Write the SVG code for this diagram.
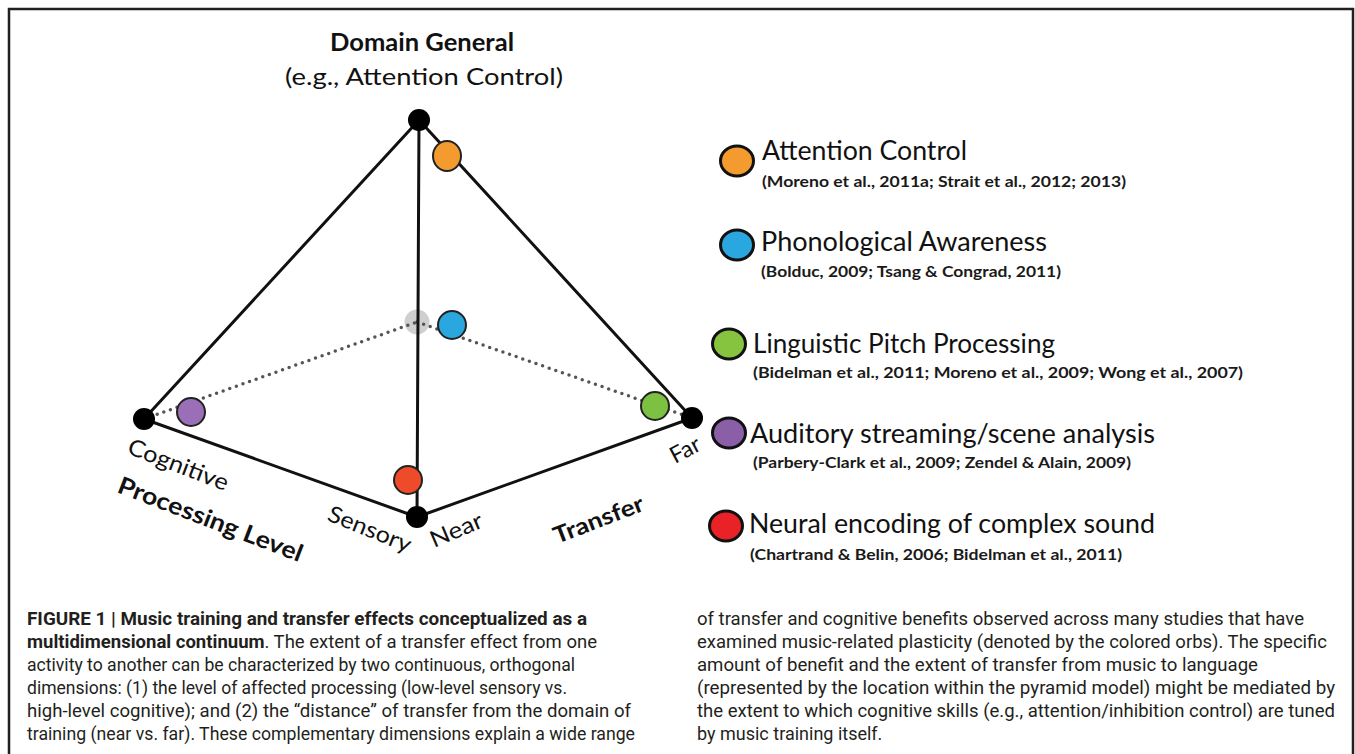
<svg xmlns="http://www.w3.org/2000/svg" width="1355" height="754" viewBox="0 0 1355 754">
<style>
.edge{stroke:#111;stroke-width:3;fill:none;stroke-linecap:round}
.dotted{stroke:#555;stroke-width:3.5;stroke-dasharray:0 7;stroke-linecap:round;fill:none}
.vtx{fill:#000}
.orb{stroke:#222;stroke-width:2}
.lorb{stroke:#111;stroke-width:3}
.lab{font-family:Lato,"Open Sans","Liberation Sans",sans-serif;fill:#111}
.b{font-weight:bold}
.ltitle{font-family:Lato,"Open Sans","Liberation Sans",sans-serif;font-size:26px;fill:#111}
.lcite{font-family:Lato,"Open Sans","Liberation Sans",sans-serif;font-size:15px;font-weight:bold;fill:#1a1a1a}
.cap{font-family:Roboto,"Liberation Sans",sans-serif;font-size:18px;fill:#231f20}
</style>
<rect width="1355" height="754" fill="#fff"/>
<path d="M9,754 V9 H1353 V754" fill="none" stroke="#231f20" stroke-width="2.5"/>

<g id="title">
<text class="lab b" x="422" y="51" font-size="25" text-anchor="middle" textLength="184" lengthAdjust="spacingAndGlyphs">Domain General</text>
<text class="lab" x="424" y="85" font-size="24" text-anchor="middle" textLength="278" lengthAdjust="spacingAndGlyphs">(e.g., Attention Control)</text>
</g>

<g id="hidden-vertex">
<circle cx="417" cy="322" r="12.5" fill="#cfcfcf"/>
</g>

<g id="connectors">
<line class="dotted" x1="144" y1="419" x2="417" y2="322"/>
<line class="dotted" x1="417" y1="322" x2="692" y2="418"/>
<line class="edge" x1="419" y1="120" x2="144" y2="419"/>
<line class="edge" x1="419" y1="120" x2="417" y2="517"/>
<line class="edge" x1="419" y1="120" x2="692" y2="418"/>
<line class="edge" x1="144" y1="419" x2="417" y2="517"/>
<line class="edge" x1="417" y1="517" x2="692" y2="418"/>
</g>

<g id="apex"><circle class="vtx" cx="419" cy="120" r="11"/></g>
<g id="cognitive"><circle class="vtx" cx="144" cy="419" r="11"/>
<text class="lab" transform="translate(126,453) rotate(21)" font-size="23" textLength="106" lengthAdjust="spacingAndGlyphs">Cognitive</text></g>
<g id="near"><circle class="vtx" cx="417" cy="517" r="11"/>
<text class="lab" transform="translate(326,520) rotate(22)" font-size="23" textLength="88" lengthAdjust="spacingAndGlyphs">Sensory</text>
<text class="lab" transform="translate(434,548) rotate(-23)" font-size="23" textLength="55" lengthAdjust="spacingAndGlyphs">Near</text></g>
<g id="far"><circle class="vtx" cx="692" cy="418" r="11"/>
<text class="lab" transform="translate(675,464) rotate(-28)" font-size="23">Far</text></g>
<g id="axis-processing"><text class="lab b" transform="translate(116,492) rotate(21)" font-size="24" textLength="196" lengthAdjust="spacingAndGlyphs">Processing Level</text></g>
<g id="axis-transfer"><text class="lab b" transform="translate(557,544) rotate(-21)" font-size="23" textLength="95" lengthAdjust="spacingAndGlyphs">Transfer</text></g>

<g id="orb-attention"><ellipse class="orb" cx="447" cy="156" rx="14" ry="15" fill="#F39B2E"/></g>
<g id="orb-phonological"><circle class="orb" cx="452" cy="325" r="14" fill="#2AA7DF"/></g>
<g id="orb-pitch"><circle class="orb" cx="655" cy="406" r="14" fill="#7CC142"/></g>
<g id="orb-streaming"><circle class="orb" cx="191" cy="412" r="14" fill="#9B6FB8"/></g>
<g id="orb-neural"><circle class="orb" cx="408" cy="480" r="14" fill="#EE4B2B"/></g>

<g id="legend-attention">
<ellipse class="lorb" cx="737" cy="161" rx="16.5" ry="15" fill="#F39B2E"/>
<text class="ltitle" x="762" y="160" textLength="205" lengthAdjust="spacingAndGlyphs">Attention Control</text>
<text class="lcite" x="762" y="187" textLength="364" lengthAdjust="spacingAndGlyphs">(Moreno et al., 2011a; Strait et al., 2012; 2013)</text>
</g>
<g id="legend-phonological">
<ellipse class="lorb" cx="737" cy="245" rx="16.5" ry="15" fill="#2AA7DF"/>
<text class="ltitle" x="761" y="251" textLength="286" lengthAdjust="spacingAndGlyphs">Phonological Awareness</text>
<text class="lcite" x="761" y="277" textLength="300" lengthAdjust="spacingAndGlyphs">(Bolduc, 2009; Tsang &amp; Congrad, 2011)</text>
</g>
<g id="legend-pitch">
<ellipse class="lorb" cx="729" cy="344" rx="16.5" ry="15" fill="#86C440"/>
<text class="ltitle" x="753" y="353" textLength="302" lengthAdjust="spacingAndGlyphs">Linguistic Pitch Processing</text>
<text class="lcite" x="753" y="378" textLength="490" lengthAdjust="spacingAndGlyphs">(Bidelman et al.,  2011; Moreno et al., 2009;  Wong et al., 2007)</text>
</g>
<g id="legend-streaming">
<ellipse class="lorb" cx="729" cy="433" rx="16.5" ry="15" fill="#8A5FA8"/>
<text class="ltitle" x="750" y="443" textLength="405" lengthAdjust="spacingAndGlyphs">Auditory streaming/scene analysis</text>
<text class="lcite" x="753" y="468" textLength="378" lengthAdjust="spacingAndGlyphs">(Parbery-Clark et al., 2009; Zendel &amp; Alain, 2009)</text>
</g>
<g id="legend-neural">
<ellipse class="lorb" cx="726" cy="526" rx="16.5" ry="15" fill="#E82227"/>
<text class="ltitle" x="749" y="533" textLength="406" lengthAdjust="spacingAndGlyphs">Neural encoding of complex sound</text>
<text class="lcite" x="750" y="560" textLength="372" lengthAdjust="spacingAndGlyphs">(Chartrand &amp; Belin, 2006; Bidelman et al., 2011)</text>
</g>

<g id="caption">
<text class="cap" x="27" y="625" textLength="560" lengthAdjust="spacingAndGlyphs"><tspan font-weight="bold">FIGURE 1 | Music training and transfer effects conceptualized as a</tspan></text>
<text class="cap" x="27" y="648" textLength="570" lengthAdjust="spacingAndGlyphs"><tspan font-weight="bold">multidimensional continuum</tspan>. The extent of a transfer effect from one</text>
<text class="cap" x="27" y="671" textLength="548" lengthAdjust="spacingAndGlyphs">activity to another can be characterized by two continuous, orthogonal</text>
<text class="cap" x="27" y="694" textLength="540" lengthAdjust="spacingAndGlyphs">dimensions: (1) the level of affected processing (low-level sensory vs.</text>
<text class="cap" x="27" y="717" textLength="604" lengthAdjust="spacingAndGlyphs">high-level cognitive); and (2) the “distance” of transfer from the domain of</text>
<text class="cap" x="27" y="740" textLength="608" lengthAdjust="spacingAndGlyphs">training (near vs. far). These complementary dimensions explain a wide range</text>
<text class="cap" x="697" y="625" textLength="607" lengthAdjust="spacingAndGlyphs">of transfer and cognitive benefits observed across many studies that have</text>
<text class="cap" x="697" y="648" textLength="630" lengthAdjust="spacingAndGlyphs">examined music-related plasticity (denoted by the colored orbs). The specific</text>
<text class="cap" x="697" y="671" textLength="561" lengthAdjust="spacingAndGlyphs">amount of benefit and the extent of transfer from music to language</text>
<text class="cap" x="697" y="694" textLength="638" lengthAdjust="spacingAndGlyphs">(represented by the location within the pyramid model) might be mediated by</text>
<text class="cap" x="697" y="717" textLength="638" lengthAdjust="spacingAndGlyphs">the extent to which cognitive skills (e.g., attention/inhibition control) are tuned</text>
<text class="cap" x="697" y="740">by music training itself.</text>
</g>
</svg>
